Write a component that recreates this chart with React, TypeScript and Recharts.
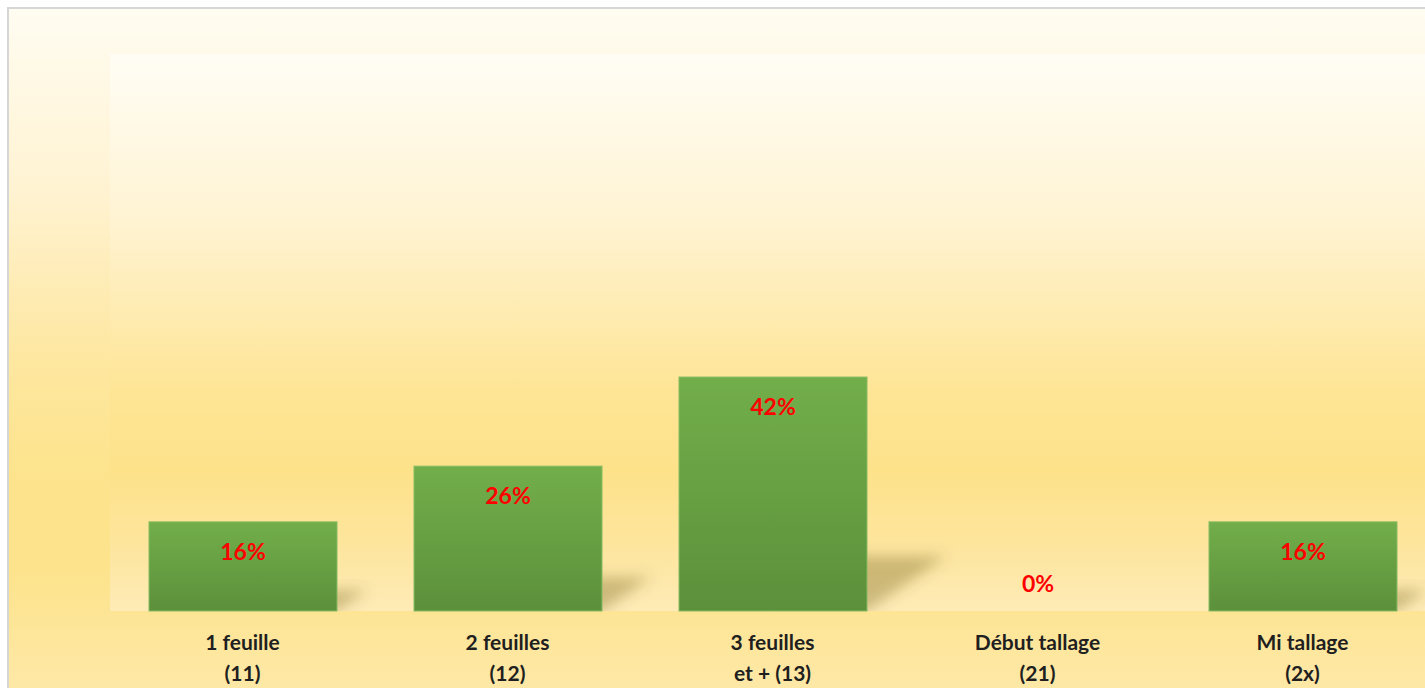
import React from 'react'
import { Bar, BarChart, CartesianGrid, LabelList, XAxis, YAxis } from 'recharts'

const stageNames = ['1 feuille', '2 feuilles', '3 feuilles', 'Début tallage', 'Mi tallage']
const stageCodes = ['(11)', '(12)', 'et + (13)', '(21)', '(2x)']
const shares = [16, 26, 42, 0, 16]

const data = stageNames.map((name, i) => ({
	name,
	code: stageCodes[i],
	share: shares[i],
}))

const FONT = "Lato, 'Open Sans', 'Liberation Sans', sans-serif"

const StageTick = ({ x, y, index }: any) => (
	<text
		x={x}
		y={y}
		textAnchor='middle'
		fill='#1f1f1f'
		fontFamily={FONT}
		fontWeight={700}
		fontSize={21}
	>
		<tspan x={x} dy={31}>
			{stageNames[index]}
		</tspan>
		<tspan x={x} dy={31}>
			{stageCodes[index]}
		</tspan>
	</text>
)

const ShadowBar = ({ x, y, width, height, index }: any) => {
	const base = y + height
	const dx = height * 0.34
	const dy = height * 0.235
	const pts = `${x + 8},${base} ${x + width},${base} ${x + width + dx},${base - dy} ${x + dx + 8},${base - dy}`
	return (
		<g>
			<clipPath id={`shadowClip${index}`}>
				<rect x={x} y={base - dy - 40} width={width + dx + 60} height={dy + 40} />
			</clipPath>
			{height > 0 && (
				<g clipPath={`url(#shadowClip${index})`}>
					<polygon points={pts} fill='#5a4a10' fillOpacity={0.3} filter='url(#barShadowBlur)' />
				</g>
			)}
			{height > 0 && (
				<rect
					x={x}
					y={y}
					width={width}
					height={height}
					fill='url(#barFill)'
					stroke='#86bb62'
					strokeWidth={1}
				/>
			)}
		</g>
	)
}

const ShareLabel = (props: any) => {
	const { x, y, width, height, value } = props
	const cx = x + width / 2
	const cy = height > 40 ? y + 29 : y + height - 28
	return (
		<text
			x={cx}
			y={cy}
			textAnchor='middle'
			dominantBaseline='central'
			fill='#ff0000'
			fontFamily={FONT}
			fontWeight={700}
			fontSize={23}
		>
			{`${value}%`}
		</text>
	)
}

export default function App() {
	return (
		<div
			style={{
				position: 'fixed',
				left: 7,
				top: 7,
				width: 1430,
				height: 700,
				overflow: 'hidden',
				borderLeft: '2px solid #d6d6d6',
				borderTop: '2px solid #d6d6d6',
				background:
					'linear-gradient(to bottom, #fffcf1 0%, #fff3d3 25%, #fee7a0 50%, #fde38b 68%, #fde38c 80%, #fee8a6 97%)',
			}}
		>
			<BarChart
				width={1445}
				height={700}
				data={data}
				margin={{ top: 45, left: 101, right: 19, bottom: 38 }}
			>
				<defs>
					<linearGradient id='plotBg' x1='0' y1='0' x2='0' y2='1'>
						<stop offset='0%' stopColor='#fffdf5' />
						<stop offset='30%' stopColor='#fff3d2' />
						<stop offset='60%' stopColor='#fee596' />
						<stop offset='75%' stopColor='#fde28a' />
						<stop offset='88%' stopColor='#fde59d' />
						<stop offset='100%' stopColor='#feebb6' />
					</linearGradient>
					<linearGradient id='barFill' x1='0' y1='0' x2='0' y2='1'>
						<stop offset='0%' stopColor='#72ae4a' />
						<stop offset='100%' stopColor='#5c903b' />
					</linearGradient>
					<filter id='barShadowBlur' x='-50%' y='-50%' width='200%' height='200%'>
						<feGaussianBlur stdDeviation='7' />
					</filter>
				</defs>
				<CartesianGrid fill='url(#plotBg)' horizontal={false} vertical={false} />
				<XAxis
					dataKey='name'
					axisLine={false}
					tickLine={false}
					height={60}
					interval={0}
					tick={<StageTick />}
				/>
				<YAxis hide domain={[0, 100]} />
				<Bar dataKey='share' barSize={188} shape={<ShadowBar />} isAnimationActive={false}>
					<LabelList dataKey='share' content={<ShareLabel />} />
				</Bar>
			</BarChart>
		</div>
	)
}
